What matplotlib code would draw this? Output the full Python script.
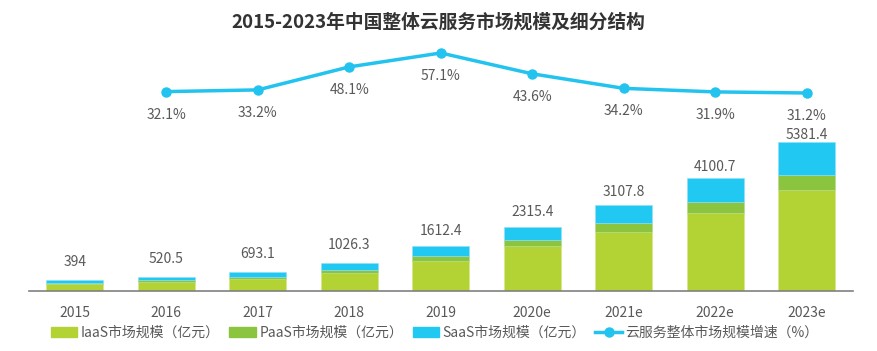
import numpy as np
import matplotlib
matplotlib.use('Agg')
import matplotlib.pyplot as plt
from matplotlib.patches import Patch
from matplotlib.lines import Line2D

plt.rcParams['font.family'] = ['Noto Sans CJK SC', 'DejaVu Sans']

# data (亿元)
years = ['2015', '2016', '2017', '2018', '2019', '2020e', '2021e', '2022e', '2023e']
totals = [394, 520.5, 693.1, 1026.3, 1612.4, 2315.4, 3107.8, 4100.7, 5381.4]
iaas = [253, 326, 423, 651, 1086, 1618, 2124, 2812, 3644]
paas = [36, 60, 72, 120, 181, 217, 326, 398, 554]
saas = [t - i - p for t, i, p in zip(totals, iaas, paas)]
growth_years = years[1:]
growth = [32.1, 33.2, 48.1, 57.1, 43.6, 34.2, 31.9, 31.2]

# gap (px) between bar top and its total label, as in the original layout
label_gap = [18, 18, 18, 17.5, 15.5, 15, 13, 11, 7]

c_iaas = '#B3D334'
c_paas = '#8BC43F'
c_saas = '#21C8F2'
c_line = '#22C3EE'
c_text = '#595959'

fig = plt.figure(figsize=(8.78, 3.51), dpi=100)
ax = fig.add_axes([0.033, 0.171, 0.938, 0.715])
x = np.arange(len(years))
w = 0.62

ax.bar(x, iaas, w, color=c_iaas, edgecolor='#D4E88A', linewidth=0.4)
ax.bar(x, paas, w, bottom=iaas, color=c_paas, edgecolor='#B5DB8A', linewidth=0.4)
bottom2 = [i + p for i, p in zip(iaas, paas)]
ax.bar(x, saas, w, bottom=bottom2, color=c_saas, edgecolor='#8EE0F7', linewidth=0.4)

for xi, t, gap in zip(x, totals, label_gap):
    ax.annotate(f'{t:g}', (xi, t), xytext=(0, gap * 0.72), textcoords='offset points',
                ha='center', va='center', fontsize=10, color=c_text)

ax.set_xlim(-0.5, 8.5)
ax.set_ylim(0, 9084)
ax.set_yticks([])
ax.set_xticks(x)
ax.set_xticklabels(years, fontsize=10, color=c_text)
ax.tick_params(axis='x', length=0, pad=11)
for s in ['top', 'right', 'left']:
    ax.spines[s].set_visible(False)
ax.spines['bottom'].set_color('#808080')
ax.spines['bottom'].set_linewidth(1.2)

ax2 = ax.twinx()
gx = x[1:]
ax2.plot(gx, growth, color=c_line, lw=2.5, marker='o', ms=6.5)
for xi, g in zip(gx, growth):
    ax2.annotate(f'{g:.1f}%', (xi, g), xytext=(0, -16.5), textcoords='offset points',
                 ha='center', va='center', fontsize=10, color=c_text)
ax2.set_ylim(-97, 65.5)
ax2.axis('off')

fig.text(0.499, 0.937, '2015-2023年中国整体云服务市场规模及细分结构', ha='center', va='center',
         fontsize=13.5, fontweight='bold', color='#333333')

handles = [Patch(color=c_iaas), Patch(color=c_paas), Patch(color=c_saas),
           Line2D([], [], color=c_line, lw=2.5, marker='o', ms=6.5)]
labels = ['IaaS市场规模（亿元）', 'PaaS市场规模（亿元）', 'SaaS市场规模（亿元）', '云服务整体市场规模增速（%）']
fig.legend(handles, labels, loc='center', bbox_to_anchor=(0.495, 0.052), ncol=4, frameon=False,
           fontsize=10, labelcolor=c_text, handlelength=1.9, handleheight=0.8,
           handletextpad=0.25, columnspacing=0.7)

fig.savefig('out.png', dpi=100)
